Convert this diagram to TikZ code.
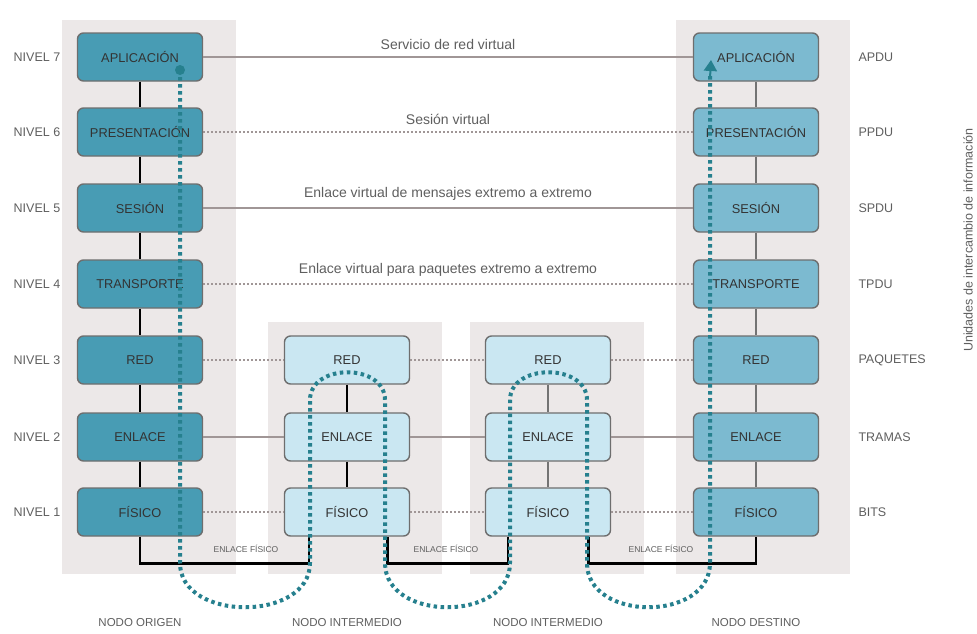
\documentclass[tikz,border=0pt]{standalone}
\usepackage{fontspec}
\setmainfont{Liberation Sans}
\usetikzlibrary{arrows.meta}
\definecolor{origfill}{RGB}{72,156,180}
\definecolor{destfill}{RGB}{124,186,208}
\definecolor{interfill}{RGB}{202,231,242}
\definecolor{boxdraw}{RGB}{110,110,110}
\definecolor{flow}{RGB}{38,128,142}
\definecolor{linkgray}{RGB}{160,150,150}
\definecolor{txtgray}{RGB}{95,95,95}
\definecolor{colshade}{RGB}{236,232,232}
\tikzset{
  layerbox/.style={draw=boxdraw, line width=1.4pt, rounded corners=6pt,
    minimum width=125pt, minimum height=48pt, text=black!80,
    font=\fontsize{12.8}{12.8}\selectfont},
  origbox/.style={layerbox, fill=origfill},
  destbox/.style={layerbox, fill=destfill},
  interbox/.style={layerbox, fill=interfill},
  stem/.style={line width=1.6pt, black},
  graystem/.style={line width=1.6pt, black!55},
  solidlink/.style={line width=1.6pt, linkgray},
  dotlink/.style={line width=1.6pt, linkgray, dash pattern=on 2pt off 2pt},
  linklabel/.style={font=\fontsize{14}{14}\selectfont, text=txtgray, above=3pt},
  levellabel/.style={font=\fontsize{12.5}{12.5}\selectfont, text=txtgray},
  unitlabel/.style={font=\fontsize{12.5}{12.5}\selectfont, text=txtgray, anchor=west},
  nodelabel/.style={font=\fontsize{11.5}{11.5}\selectfont, text=txtgray},
  medlabel/.style={font=\fontsize{8.5}{8.5}\selectfont, text=txtgray},
  phys/.style={line width=2.6pt, black},
  flowpath/.style={line width=4pt, flow, dash pattern=on 3.5pt off 3.5pt},
}
\begin{document}
\begin{tikzpicture}[x=1pt,y=-1pt]
\useasboundingbox (0,0) rectangle (977,633);
\fill[white] (0,0) rectangle (977,633);
% column shading
\fill[colshade] (62,20) rectangle (236,574);
\fill[colshade] (676,20) rectangle (850,574);
\fill[colshade] (268,322) rectangle (442,574);
\fill[colshade] (470,322) rectangle (644,574);

% origin column
\node[origbox] (o7) at (140,57) {APLICACIÓN};
\node[origbox] (o6) at (140,132) {PRESENTACIÓN};
\node[origbox] (o5) at (140,208) {SESIÓN};
\node[origbox] (o4) at (140,284) {TRANSPORTE};
\node[origbox] (o3) at (140,360) {RED};
\node[origbox] (o2) at (140,437) {ENLACE};
\node[origbox] (o1) at (140,512) {FÍSICO};
% intermediate 1
\node[interbox] (a3) at (347,360) {RED};
\node[interbox] (a2) at (347,437) {ENLACE};
\node[interbox] (a1) at (347,512) {FÍSICO};
% intermediate 2
\node[interbox] (b3) at (548,360) {RED};
\node[interbox] (b2) at (548,437) {ENLACE};
\node[interbox] (b1) at (548,512) {FÍSICO};
% destination
\node[destbox] (d7) at (756,57) {APLICACIÓN};
\node[destbox] (d6) at (756,132) {PRESENTACIÓN};
\node[destbox] (d5) at (756,208) {SESIÓN};
\node[destbox] (d4) at (756,284) {TRANSPORTE};
\node[destbox] (d3) at (756,360) {RED};
\node[destbox] (d2) at (756,437) {ENLACE};
\node[destbox] (d1) at (756,512) {FÍSICO};

% stems
\foreach \u/\l in {7/6,6/5,5/4,4/3,3/2,2/1}{
  \draw[stem] (o\u.south) -- (o\l.north);
  \draw[graystem] (d\u.south) -- (d\l.north);
}
\draw[stem] (a3.south) -- (a2.north);
\draw[stem] (a2.south) -- (a1.north);
\draw[graystem] (b3.south) -- (b2.north);
\draw[graystem] (b2.south) -- (b1.north);

% virtual links
\draw[solidlink] (o7.east) -- (d7.west) node[midway, linklabel] {Servicio de red virtual};
\draw[dotlink] (o6.east) -- (d6.west) node[midway, linklabel] {Sesión virtual};
\draw[solidlink] (o5.east) -- (d5.west) node[midway, linklabel] {Enlace virtual de mensajes extremo a extremo};
\draw[dotlink] (o4.east) -- (d4.west) node[midway, linklabel] {Enlace virtual para paquetes extremo a extremo};
\draw[dotlink] (o3.east) -- (a3.west);
\draw[dotlink] (a3.east) -- (b3.west);
\draw[dotlink] (b3.east) -- (d3.west);
\draw[solidlink] (o2.east) -- (a2.west);
\draw[solidlink] (a2.east) -- (b2.west);
\draw[solidlink] (b2.east) -- (d2.west);
\draw[dotlink] (o1.east) -- (a1.west);
\draw[dotlink] (a1.east) -- (b1.west);
\draw[dotlink] (b1.east) -- (d1.west);

% physical medium
\draw[phys] (o1.south) -- ++(0,27) -| ([xshift=25pt]a1.south west);
\draw[phys] ([xshift=-23pt]a1.south east) -- ++(0,27) -| ([xshift=23pt]b1.south west);
\draw[phys] ([xshift=-23pt]b1.south east) -- ++(0,27) -| (d1.south);
\node[medlabel] (m1) at (246,549) {ENLACE FÍSICO};
\node[medlabel] (m2) at (446,549) {ENLACE FÍSICO};
\node[medlabel] (m3) at (661,549) {ENLACE FÍSICO};

% data flow
\coordinate (fs) at (180,70);
\coordinate (fe) at (711,60);
\fill[flow] (fs) circle (5pt);
\draw[flowpath] (fs) -- (180,563) .. controls (180,622) and (310,622) .. (310,563)
  -- (310,400) .. controls (310,363) and (385,363) .. (385,400)
  -- (385,563) .. controls (385,622) and (510,622) .. (510,563)
  -- (510,400) .. controls (510,363) and (587,363) .. (587,400)
  -- (587,563) .. controls (587,622) and (710,622) .. (710,563)
  -- (710,76);
\draw[flow, line width=2pt, -{Triangle[length=11pt,width=13pt]}] (710,78) -- (fe);

% level labels
\foreach \n/\y in {7/57,6/132,5/208,4/284,3/360,2/437,1/512}{
  \node[levellabel] (lv\n) at (37,\y) {NIVEL \n};
}
% unit labels
\node[unitlabel] (u7) at (855,57) {APDU};
\node[unitlabel] (u6) at (855,132) {PPDU};
\node[unitlabel] (u5) at (855,208) {SPDU};
\node[unitlabel] (u4) at (855,284) {TPDU};
\node[unitlabel] (u3) at (855,360) {PAQUETES};
\node[unitlabel] (u2) at (855,437) {TRAMAS};
\node[unitlabel] (u1) at (855,512) {BITS};
\node[levellabel, rotate=90] (units) at (968,240) {Unidades de intercambio de información};

% node labels
\node[nodelabel] (n1) at (140,623) {NODO ORIGEN};
\node[nodelabel] (n2) at (347,623) {NODO INTERMEDIO};
\node[nodelabel] (n3) at (548,623) {NODO INTERMEDIO};
\node[nodelabel] (n4) at (756,623) {NODO DESTINO};
\end{tikzpicture}
\end{document}
